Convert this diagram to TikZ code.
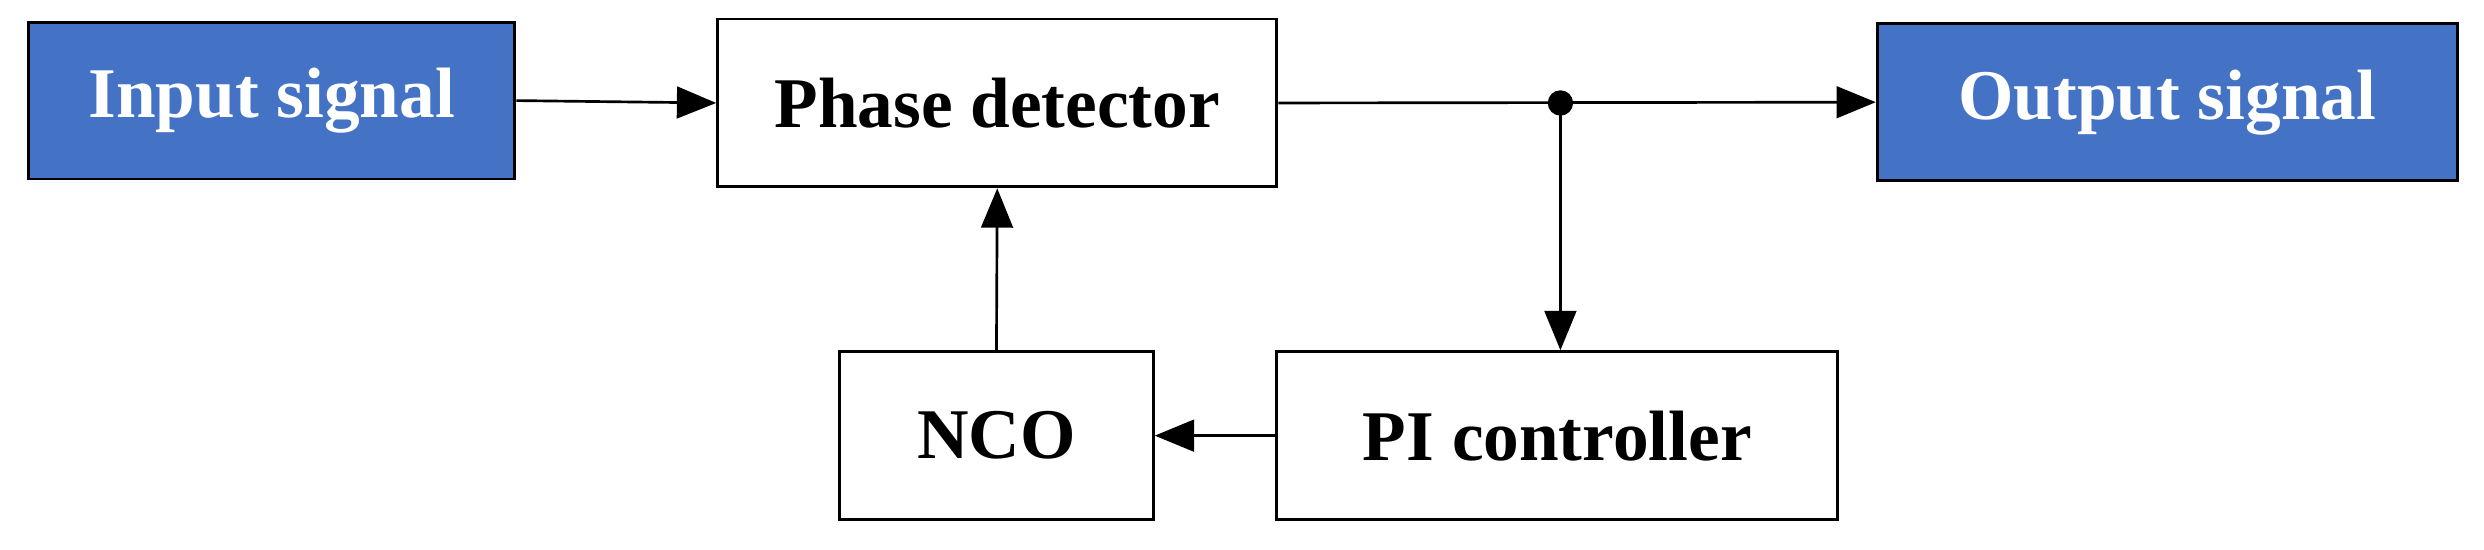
\documentclass[tikz,border=0pt]{standalone}
\usepackage{fontspec}
\setmainfont{Liberation Serif}
\usetikzlibrary{arrows.meta}
\definecolor{blu}{RGB}{68,114,196}
\begin{document}
\begin{tikzpicture}[x=0.025cm,y=-0.025cm,
  box/.style={draw=black,line width=1.3pt,inner sep=0,font=\fontsize{32}{38}\selectfont\bfseries},
  wbox/.style={box,fill=white,text=black},
  bbox/.style={box,fill=blu,text=white},
  arr/.style={line width=1.2pt,-{Triangle[length=0.62cm,width=0.5cm]}}]
\useasboundingbox (0,0) rectangle (1568,347);
\node[bbox,minimum width=307*0.025cm,minimum height=99*0.025cm] (in) at (171.5,63.5) {Input signal};
\node[wbox,minimum width=353*0.025cm,minimum height=106*0.025cm] (pd) at (629.5,65) {Phase detector};
\node[bbox,minimum width=366*0.025cm,minimum height=99*0.025cm] (out) at (1368,64.5) {Output signal};
\node[wbox,minimum width=198*0.025cm,minimum height=106*0.025cm] (nco) at (629,275) {NCO};
\node[wbox,minimum width=354*0.025cm,minimum height=106*0.025cm] (pi) at (983,275) {PI controller};
\coordinate (j) at (985,65);
\draw[arr] (in.east) -- (pd.west);
\draw[arr] (pd.east) -- (out.west);
\fill (j) circle (0.2cm);
\draw[arr] (j) -- (j |- pi.north);
\draw[arr] (pi.west) -- (nco.east);
\draw[arr] (nco.north) -- (pd.south);
\end{tikzpicture}
\end{document}
